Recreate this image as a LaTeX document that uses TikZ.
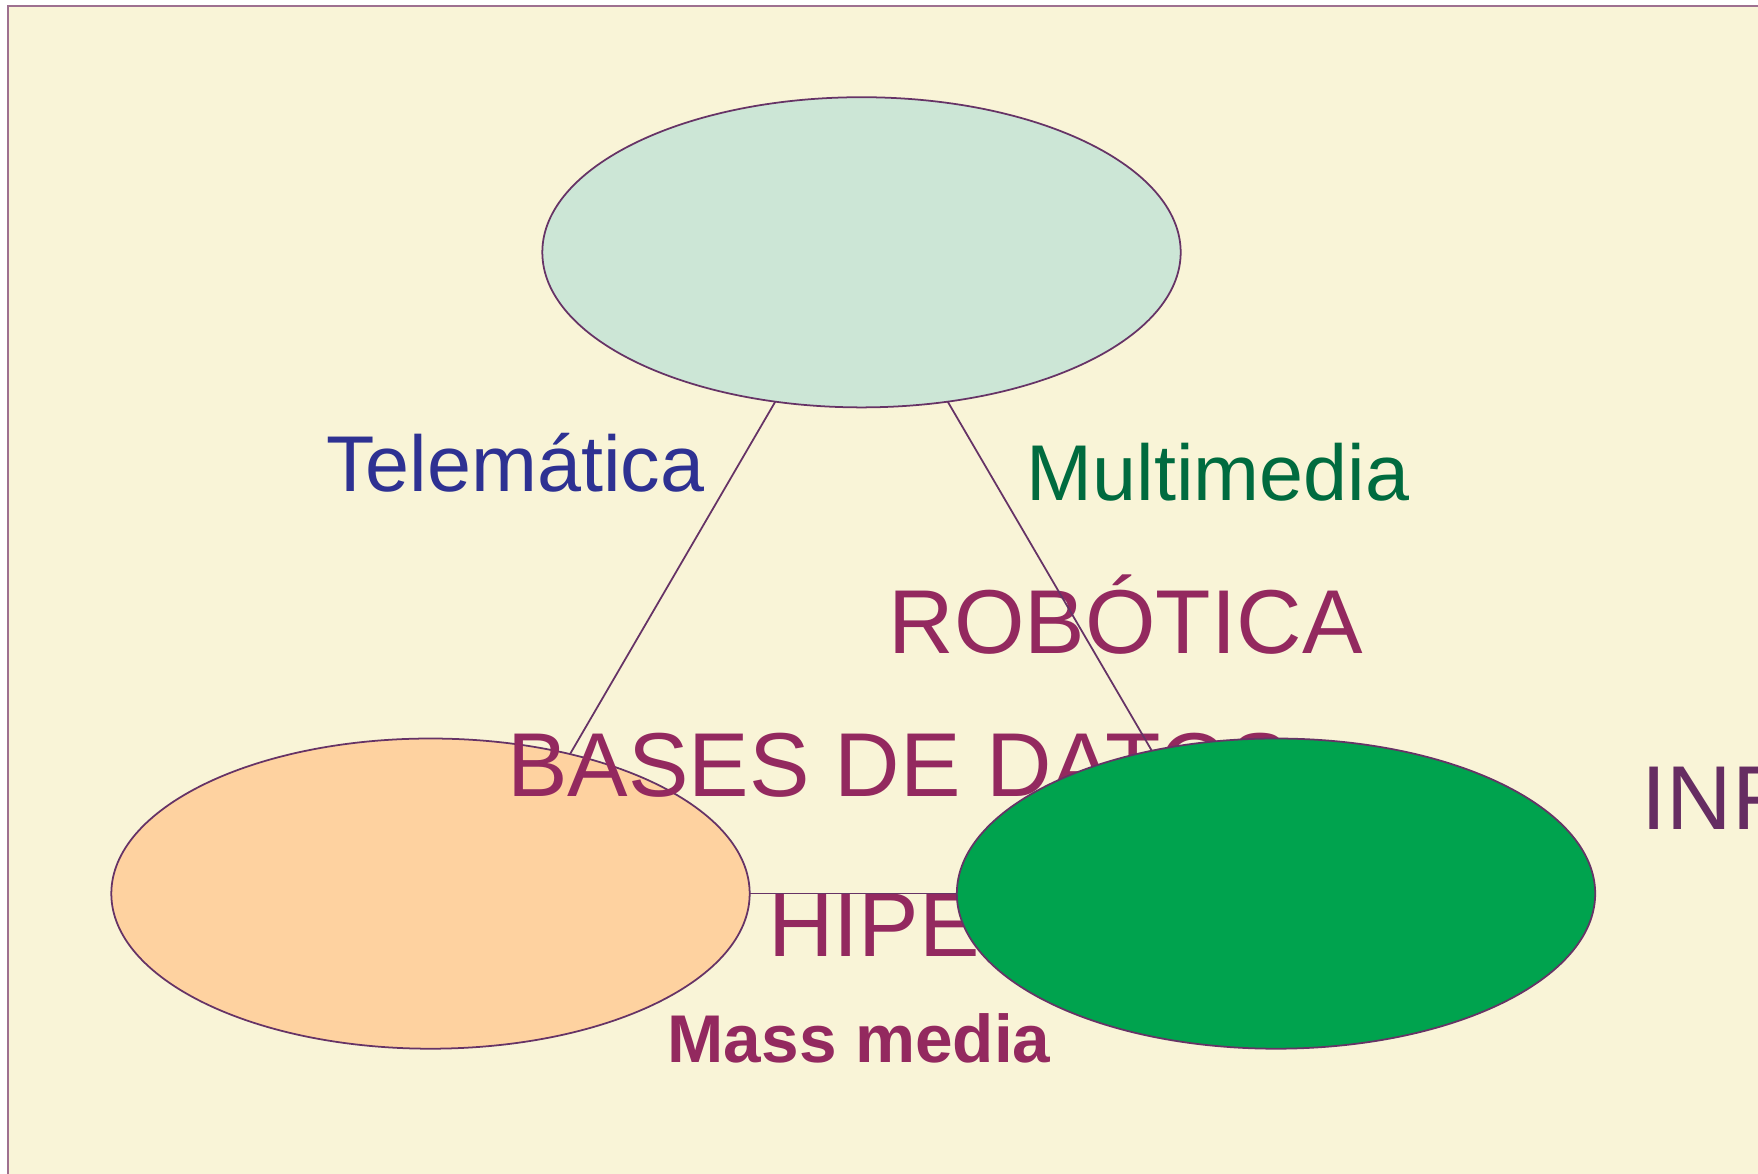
\documentclass[tikz,border=0pt]{standalone}
\usepackage{fontspec}
\setmainfont{Liberation Sans}
\definecolor{bgcream}{RGB}{249, 244, 215}
\definecolor{framepurple}{RGB}{158, 112, 144}
\definecolor{edgepurple}{RGB}{102, 51, 102}
\definecolor{mint1}{RGB}{204, 230, 214}
\definecolor{peach1}{RGB}{254, 210, 160}
\definecolor{green1}{RGB}{0, 163, 78}
\definecolor{teleblue}{RGB}{46, 49, 146}
\definecolor{multigreen}{RGB}{0, 107, 63}
\definecolor{maroon1}{RGB}{147, 41, 95}
\definecolor{infpurple}{RGB}{102, 45, 98}
\usepackage{tikz}
\usetikzlibrary{shapes.geometric, positioning, calc}
\tikzset{
  blob/.style={ellipse, draw=edgepurple, line width=0.5pt, minimum width=6.38cm, minimum height=3.1cm, inner sep=0pt, outer sep=0pt},
  linklabel/.style={anchor=base west, inner sep=0pt, font=\fontsize{22.5}{27}\selectfont},
  fieldlabel/.style={anchor=base west, inner sep=0pt, text=maroon1, font=\fontsize{25.8}{31}\selectfont},
  linkline/.style={draw=edgepurple, line width=0.5pt},
}
\begin{document}
\begin{tikzpicture}[x=0.01cm, y=-0.01cm]
  \useasboundingbox (0,0) rectangle (1758,1173);
  \begin{scope}
  \clip (0,0) rectangle (1758,1173);
  \draw[fill=bgcream, draw=framepurple, line width=0.6pt] (8,6) rectangle (1800,1210);
  % the three ellipses
  \node[blob, fill=mint1] (top) at (861.5,252.3) {};
  \node[blob, fill=peach1] (left) at (430.5,893.6) {};
  % link names
  \node[linklabel, text=teleblue] (tele) at (325.5,491.7) {Telemática};
  \node[linklabel, text=multigreen] (multi) at (1026,500.7) {Multimedia};
  % fields
  \node[fieldlabel] (robot) at (888,653.3) {ROBÓTICA};
  \node[fieldlabel] (bases) at (506.5,796.7) {BASES DE DATOS};
  \node[fieldlabel] (hiper) at (767.5,956) {HIPERMEDIA};
  \node[blob, fill=green1] (right) at (1276,893.6) {};
  \foreach \a/\b in {top.240/left.45, top.300/right.131, left.east/right.west}
    \draw[linkline] (\a) -- (\b);
  \node[fieldlabel, text=infpurple] (inf) at (1641,829.5) {INFORMÁTICA};
  \node[anchor=base west, inner sep=0pt, text=maroon1, font=\fontsize{19.2}{23}\selectfont\bfseries] (mass) at (667,1062.7) {Mass media};
  \end{scope}
\end{tikzpicture}
\end{document}
